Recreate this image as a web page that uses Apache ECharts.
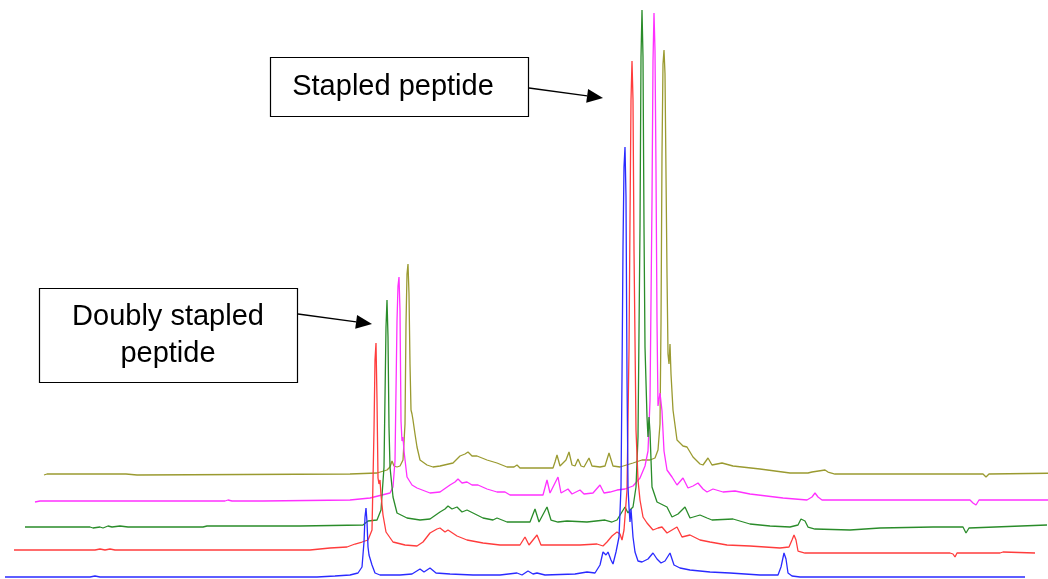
<!DOCTYPE html>
<html><head><meta charset="utf-8">
<script src="https://cdn.jsdelivr.net/npm/echarts@6/dist/echarts.min.js"></script>
<style>html,body{margin:0;padding:0;background:#fff;}#c{width:1048px;height:579px;}</style>
</head><body><div id="c"></div>
<script>
// Chromatogram traces: [retention time (a.u.), signal (mAU)]
const traceNames = ['Run 1', 'Run 2', 'Run 3', 'Run 4', 'Run 5'];
const blueTrace = [[0,0],[85,0],[90,1],[95,0],[295,0],[312,0],[330,1],[345,2],[353,4],[357,10],[359,35],[360,60],[361,69],[362,55],[363,30],[364,22],[365,20],[367,12],[370,4],[375,2],[395,2],[407,3],[415,8],[419,5],[425,9],[431,4],[445,3],[468,2],[495,2],[512,4],[517,2],[523,6],[528,3],[532,4],[540,2],[570,3],[582,5],[590,4],[595,12],[598,25],[601,22],[603,25],[606,17],[608,13],[611,25],[614,40],[616,90],[617,200],[618,330],[619,410],[620,430],[621,380],[622,200],[623,90],[624,70],[625,55],[626,68],[628,40],[630,25],[633,16],[637,15],[643,18],[648,24],[652,18],[656,14],[660,16],[665,24],[669,12],[675,9],[685,7],[705,5],[725,4],[755,2],[773,2],[776,10],[779,24],[781,18],[783,4],[787,1],[795,0],[1020,0]];
const redTrace = [[0,0],[81,0],[83,-1],[86,1],[91,0],[96,1],[101,0],[296,0],[298,1],[316,2],[333,3],[341,6],[348,8],[354,10],[358,20],[360,120],[361,190],[362,207],[363,150],[364,72],[365,66],[366,70],[367,55],[369,35],[372,18],[379,8],[391,5],[403,4],[409,8],[416,17],[423,21],[426,22],[431,18],[434,20],[443,14],[453,10],[469,7],[486,5],[506,5],[511,13],[515,5],[523,15],[527,5],[546,5],[566,5],[583,6],[589,4],[593,8],[598,14],[603,18],[606,16],[608,10],[610,20],[613,60],[615,200],[616,330],[617,450],[618,489],[619,450],[620,300],[622,120],[624,70],[626,50],[629,33],[633,27],[639,20],[644,22],[648,23],[653,17],[658,20],[663,23],[668,13],[676,15],[686,10],[696,8],[713,5],[736,4],[766,2],[775,3],[778,10],[780,15],[782,10],[784,-1],[791,-3],[936,-3],[939,-4],[941,-7],[943,-3],[986,-3],[989,-2],[1021,-3]];
const greenTrace = [[0,0],[65,0],[68,-1],[75,0],[78,-1],[83,1],[87,0],[95,1],[103,0],[178,0],[180,2],[182,1],[275,1],[277,2],[338,2],[343,6],[352,7],[356,17],[359,60],[361,200],[362,227],[363,190],[364,100],[365,60],[368,30],[372,14],[382,9],[395,7],[405,8],[415,15],[420,18],[423,21],[427,18],[432,20],[437,15],[442,17],[452,12],[458,9],[468,7],[472,9],[482,5],[505,5],[510,18],[514,5],[522,20],[526,7],[533,5],[542,6],[562,5],[580,7],[587,5],[592,7],[600,20],[603,14],[605,17],[608,20],[611,40],[613,90],[615,300],[616,470],[617,517],[618,470],[619,300],[620,180],[622,110],[623,90],[624,110],[625,95],[627,40],[632,25],[638,22],[642,20],[647,10],[653,13],[660,20],[665,9],[675,12],[682,9],[687,7],[708,8],[725,3],[745,1],[765,0],[773,2],[776,8],[778,10],[780,6],[783,0],[790,-2],[825,-3],[855,-1],[908,0],[938,0],[941,-6],[944,-1],[1022,2]];
const magentaTrace = [[0,-1],[5,0],[65,0],[115,0],[117,-1],[125,0],[190,0],[193,1],[197,0],[228,0],[229,1],[315,1],[335,3],[355,8],[358,14],[360,40],[362,180],[363,215],[364,224],[365,190],[366,80],[367,60],[368,64],[369,50],[372,24],[377,16],[382,13],[395,8],[405,9],[415,16],[420,19],[423,22],[427,18],[432,19],[437,16],[443,16],[452,12],[462,9],[470,9],[475,6],[495,6],[508,6],[512,21],[515,8],[517,6],[523,24],[526,8],[533,12],[537,7],[545,11],[549,7],[558,8],[565,16],[569,8],[575,9],[582,11],[590,12],[598,15],[605,23],[610,35],[613,50],[615,100],[617,300],[618,440],[619,488],[620,450],[621,330],[622,180],[623,95],[625,108],[627,90],[629,50],[632,31],[637,24],[642,16],[648,23],[653,13],[658,15],[663,18],[668,12],[672,9],[678,12],[688,9],[700,10],[715,7],[748,3],[772,1],[777,4],[780,8],[783,4],[787,1],[792,1],[935,1],[938,-2],[941,-4],[944,1],[985,1],[1022,1]];
const oliveTrace = [[0,-1],[3,0],[82,0],[83,-1],[84,0],[93,-1],[94,0],[306,0],[333,1],[343,4],[346,7],[348,13],[350,8],[353,7],[356,8],[359,14],[361,50],[362,150],[363,200],[364,210],[365,180],[366,110],[367,64],[368,60],[369,54],[371,40],[373,27],[376,14],[383,9],[389,7],[396,8],[409,11],[416,18],[421,20],[424,22],[428,18],[433,18],[443,14],[453,11],[463,7],[470,7],[473,9],[476,6],[509,6],[511,12],[513,19],[516,8],[518,7],[522,14],[525,22],[528,9],[531,8],[534,15],[537,8],[540,7],[545,16],[548,8],[556,7],[561,8],[565,21],[569,8],[576,7],[589,11],[598,14],[606,14],[611,16],[614,24],[616,50],[617,150],[618,320],[619,410],[620,424],[621,400],[622,300],[623,200],[624,120],[625,110],[626,130],[627,100],[629,64],[633,34],[639,28],[643,27],[649,17],[656,10],[659,9],[664,16],[668,9],[678,11],[689,8],[716,5],[746,1],[764,1],[768,2],[781,4],[784,2],[791,0],[939,0],[942,-3],[945,0],[1022,1]];

const traces = [blueTrace, redTrace, greenTrace, magentaTrace, oliveTrace];
const colors = ['#2a2aff', '#ff3c3c', '#2a8c2a', '#ff30ff', '#9a9a30'];
// waterfall offsets (layout): left edge and baseline of each trace, in px
const offX = [5, 14, 25, 35, 44];
const baseY = [577, 550, 527, 501, 474];
const CW = 1048, CH = 579;

const grids = [], xAxes = [], yAxes = [], series = [];
for (let i = 0; i < 5; i++) {
  const w = CW - offX[i];
  const dip = Math.min(10, CH - baseY[i]);
  grids.push({left: offX[i], top: 0, width: w, height: baseY[i] + dip, containLabel: false});
  xAxes.push({type: 'value', gridIndex: i, min: 0, max: w, show: false});
  yAxes.push({type: 'value', gridIndex: i, min: -dip, max: baseY[i], show: false});
}
for (let i = 4; i >= 0; i--) {
  series.push({
    name: traceNames[i], type: 'line', xAxisIndex: i, yAxisIndex: i,
    data: traces[i], showSymbol: false, symbol: 'none', clip: false,
    lineStyle: {color: colors[i], width: 1.3}, z: 5 - i
  });
}

function arrow(x1, y1, x2, y2) {
  const a = Math.atan2(y2 - y1, x2 - x1), L = 16, W = 7;
  const bx = x2 - L * Math.cos(a), by = y2 - L * Math.sin(a);
  const px = -Math.sin(a) * W, py = Math.cos(a) * W;
  return [
    {type: 'line', shape: {x1: x1, y1: y1, x2: bx, y2: by}, style: {stroke: '#000', lineWidth: 1.3}, z: 100},
    {type: 'polygon', shape: {points: [[x2, y2], [bx + px, by + py], [bx - px, by - py]]}, style: {fill: '#000'}, z: 100}
  ];
}

const graphic = [
  {type: 'rect', shape: {x: 270.5, y: 57.5, width: 258, height: 59}, style: {fill: '#fff', stroke: '#000', lineWidth: 1.2}, z: 100},
  {type: 'text', x: 393, y: 87, style: {text: 'Stapled peptide', font: '29px "Liberation Sans", Arial, sans-serif', fill: '#000', align: 'center', verticalAlign: 'middle'}, z: 101},
  ...arrow(529, 88, 603, 98),
  {type: 'rect', shape: {x: 39.5, y: 288.5, width: 258, height: 94}, style: {fill: '#fff', stroke: '#000', lineWidth: 1.2}, z: 100},
  {type: 'text', x: 168, y: 335, style: {text: 'Doubly stapled\npeptide', font: '29px "Liberation Sans", Arial, sans-serif', lineHeight: 37, fill: '#000', align: 'center', verticalAlign: 'middle'}, z: 101},
  ...arrow(298, 314, 372, 324)
];

const chart = echarts.init(document.getElementById('c'), null, {renderer: 'canvas'});
chart.setOption({
  animation: false, backgroundColor: '#fff',
  grid: grids, xAxis: xAxes, yAxis: yAxes, series: series, graphic: graphic
});
</script></body></html>
